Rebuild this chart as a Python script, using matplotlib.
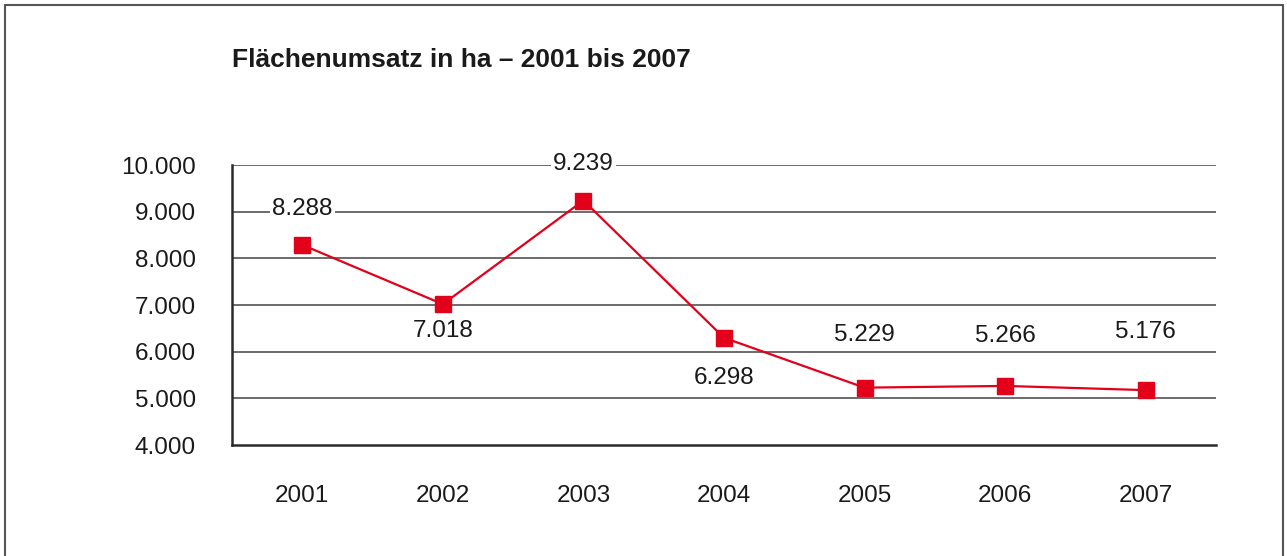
import numpy as np
import matplotlib.pyplot as plt
import matplotlib.patches as patches

# data
years = ['2001', '2002', '2003', '2004', '2005', '2006', '2007']
area_ha = [8288, 7018, 9239, 6298, 5229, 5266, 5176]
ytick_values = [4000, 5000, 6000, 7000, 8000, 9000, 10000]
ytick_labels = ['4.000', '5.000', '6.000', '7.000', '8.000', '9.000', '10.000']

# label offsets in points (positive = above the marker)
label_offsets = [26, -19, 26, -29, 38, 36, 42]

plt.rcParams['font.family'] = ['Liberation Sans', 'DejaVu Sans']

fig = plt.figure(figsize=(12.87, 5.56), dpi=100)

# outer frame (bottom edge runs off the picture)
frame = patches.Rectangle((5 / 1287, -0.1), (1283 - 5) / 1287, (556 - 5) / 556 + 0.1,
                          transform=fig.transFigure, fill=False,
                          edgecolor='#555555', linewidth=1.5)
fig.patches.append(frame)

fig.text(232 / 1287, 1 - 60 / 556, 'Flächenumsatz in ha – 2001 bis 2007',
         fontsize=19, fontweight='bold', ha='left', va='center', color='#1a1a1a')

ax = fig.add_axes([232 / 1287, 111 / 556, 984 / 1287, 280 / 556])

red = '#e2001a'
x = np.arange(len(years))
ax.plot(x, area_ha, color=red, linewidth=1.6, marker='s', markersize=11,
        markerfacecolor=red, markeredgecolor=red, zorder=3)

for xi, val, off in zip(x, area_ha, label_offsets):
    txt = f'{val / 1000:.3f}'
    ax.annotate(txt, (xi, val), xytext=(0, off), textcoords='offset points',
                ha='center', va='center', fontsize=17.5, color='#1a1a1a',
                bbox=dict(boxstyle='square,pad=0.1', facecolor='white', edgecolor='none'),
                zorder=4)

ax.set_xlim(-0.5, len(years) - 0.5)
ax.set_ylim(4000, 10000)
ax.set_xticks(x)
ax.set_xticklabels(years)
ax.set_yticks(ytick_values)
ax.set_yticklabels(ytick_labels)
ax.tick_params(axis='both', length=0, labelsize=17.5, colors='#1a1a1a')
ax.tick_params(axis='y', pad=26)
ax.tick_params(axis='x', pad=29)

for yv in ytick_values[1:]:
    ax.axhline(yv, color='#444444', linewidth=1.1, zorder=1)

ax.spines['top'].set_visible(False)
ax.spines['right'].set_visible(False)
for s in ['left', 'bottom']:
    ax.spines[s].set_color('#2a2a2a')
    ax.spines[s].set_linewidth(1.8)

fig.savefig('out.png', dpi=100)
